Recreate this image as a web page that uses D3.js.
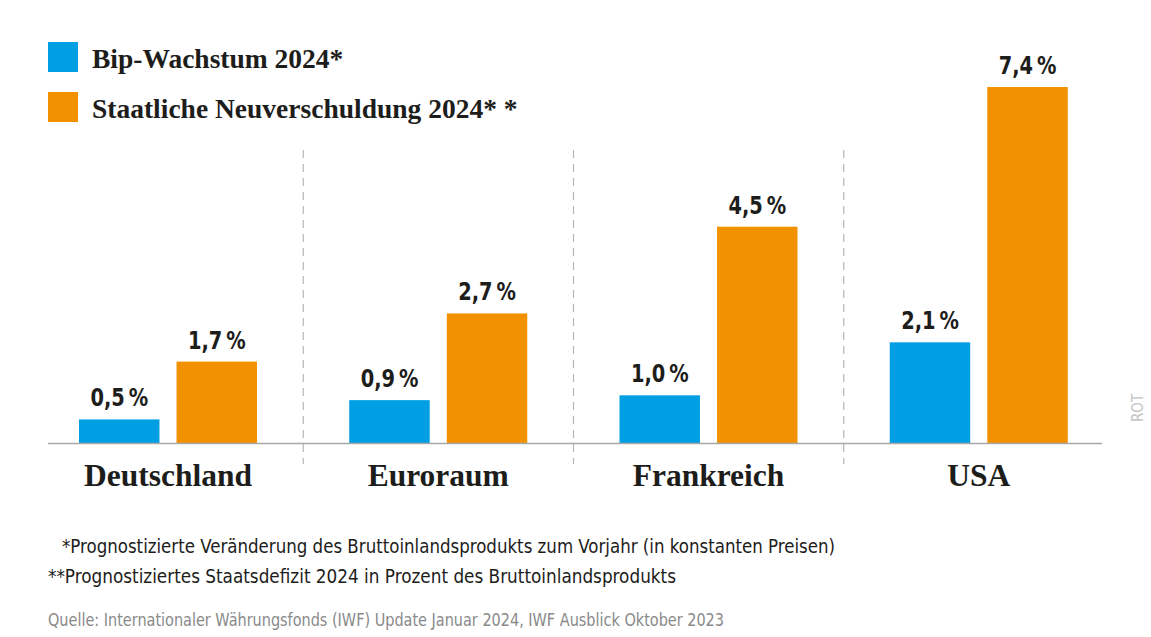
<!DOCTYPE html>
<html>
<head>
<meta charset="utf-8">
<script src="https://cdn.jsdelivr.net/npm/d3@7"></script>
<style>
  html, body { margin: 0; padding: 0; background: #fff; }
  svg { display: block; }
  .serif { font-family: "Liberation Serif", "DejaVu Serif", serif; font-weight: bold; fill: #1d1d1b; }
  .val   { font-family: "DejaVu Sans Condensed", "DejaVu Sans", sans-serif; font-stretch: condensed; font-weight: bold; fill: #1d1d1b; }
  .note  { font-family: "DejaVu Sans Condensed", "DejaVu Sans", sans-serif; font-stretch: condensed; fill: #1d1d1b; }
</style>
</head>
<body>
<svg id="chart" width="1151" height="637"></svg>
<script>
// ── Data ───────────────────────────────────────────────────────────────────
const countries = ['Deutschland', 'Euroraum', 'Frankreich', 'USA'];
const gdpGrowth = [0.5, 0.9, 1.0, 2.1];   // Bip-Wachstum 2024*
const newDebt   = [1.7, 2.7, 4.5, 7.4];   // Staatliche Neuverschuldung 2024**
const seriesNames = ['Bip-Wachstum 2024*', 'Staatliche Neuverschuldung 2024* *'];
const notes = [
  '*Prognostizierte Veränderung des Bruttoinlandsprodukts zum Vorjahr (in konstanten Preisen)',
  '**Prognostiziertes Staatsdefizit 2024 in Prozent des Bruttoinlandsprodukts'
];
const source = 'Quelle: Internationaler Währungsfonds (IWF) Update Januar 2024, IWF Ausblick Oktober 2023';

const colors = ['#009fe3', '#f39200'];
const fmt = v => d3.format('.1f')(v).replace('.', ',') + '\u2009%';

// ── Layout ─────────────────────────────────────────────────────────────────
const svg = d3.select('#chart');
const left = 33, right = 1114, baseY = 443.5;

const x0 = d3.scaleBand().domain(countries).range([left, right]).paddingInner(0).paddingOuter(0);
const x1 = d3.scaleBand().domain([0, 1]).range([46, 224]).paddingInner(0.175);
const y  = d3.scaleLinear().domain([0, 7.4]).range([baseY, 87]);

// ── Dividers ───────────────────────────────────────────────────────────────
svg.append('g').selectAll('line')
  .data(countries.slice(1))
  .join('line')
  .attr('x1', d => x0(d)).attr('x2', d => x0(d))
  .attr('y1', 150).attr('y2', 464)
  .attr('stroke', '#b5b5b5').attr('stroke-width', 1.2)
  .attr('stroke-dasharray', '8,6');

// ── Bars ───────────────────────────────────────────────────────────────────
const rows = countries.map((c, i) => ({ c, vals: [gdpGrowth[i], newDebt[i]] }));

const groups = svg.append('g').selectAll('g')
  .data(rows)
  .join('g')
  .attr('transform', d => `translate(${x0(d.c)},0)`);

groups.selectAll('rect')
  .data(d => d.vals.map((v, k) => ({ v, k })))
  .join('rect')
  .attr('x', d => x1(d.k))
  .attr('width', x1.bandwidth())
  .attr('y', d => y(d.v))
  .attr('height', d => y(0) - y(d.v))
  .attr('fill', d => colors[d.k]);

// value labels, squeezed horizontally to mimic a condensed face
groups.selectAll('text.val')
  .data(d => d.vals.map((v, k) => ({ v, k })))
  .join('text')
  .attr('class', 'val')
  .attr('transform', d => `translate(${x1(d.k) + x1.bandwidth() / 2},${y(d.v) - 13}) scale(0.88,1)`)
  .attr('text-anchor', 'middle')
  .attr('font-size', 24.5)
  .text(d => fmt(d.v));

// baseline
svg.append('line')
  .attr('x1', 48).attr('x2', 1102)
  .attr('y1', baseY).attr('y2', baseY)
  .attr('stroke', '#a8a8a8').attr('stroke-width', 1.5);

// ── Category labels ────────────────────────────────────────────────────────
svg.append('g').selectAll('text')
  .data(countries)
  .join('text')
  .attr('class', 'serif')
  .attr('x', d => x0(d) + 135)
  .attr('y', 486)
  .attr('text-anchor', 'middle')
  .attr('font-size', 31.5)
  .text(d => d);

// ── Legend ─────────────────────────────────────────────────────────────────
const legend = svg.append('g').selectAll('g')
  .data(seriesNames)
  .join('g')
  .attr('transform', (d, i) => `translate(48,${42 + i * 50})`);

legend.append('rect')
  .attr('width', 30).attr('height', 30)
  .attr('fill', (d, i) => colors[i]);

legend.append('text')
  .attr('class', 'serif')
  .attr('x', 44).attr('y', 26)
  .attr('font-size', 27.5)
  .text(d => d);

// ── Footnotes & source ─────────────────────────────────────────────────────
const noteX   = [62, 48];
const noteLen = [773, 628];

svg.append('g').selectAll('text')
  .data(notes)
  .join('text')
  .attr('class', 'note')
  .attr('x', (d, i) => noteX[i])
  .attr('y', (d, i) => 553 + i * 30)
  .attr('font-size', 20)
  .attr('textLength', (d, i) => noteLen[i])
  .attr('lengthAdjust', 'spacingAndGlyphs')
  .text(d => d);

svg.append('text')
  .attr('class', 'note')
  .attr('x', 48).attr('y', 626)
  .attr('font-size', 17.5)
  .attr('textLength', 676)
  .attr('lengthAdjust', 'spacingAndGlyphs')
  .style('fill', '#8a8a8a')
  .text(source);

svg.append('text')
  .attr('class', 'note')
  .attr('transform', 'translate(1143,422) rotate(-90)')
  .attr('font-size', 15)
  .style('fill', '#c4c4c4')
  .text('ROT');
</script>
</body>
</html>
